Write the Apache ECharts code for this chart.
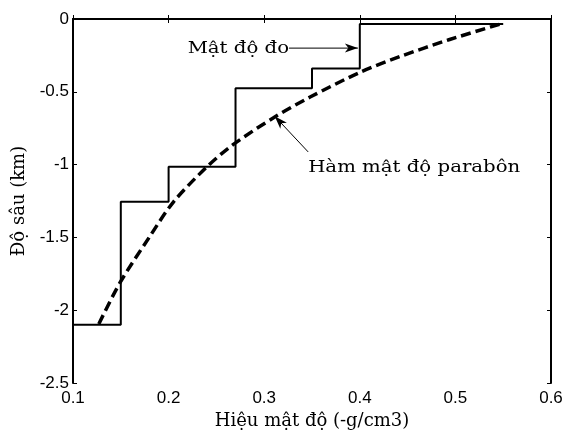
<!DOCTYPE html>
<html><head><meta charset="utf-8">
<script src="https://cdn.jsdelivr.net/npm/echarts@6/dist/echarts.min.js"></script>
<style>html,body{margin:0;padding:0;background:#fff}#c{width:567px;height:430px}</style>
</head><body><div id="c"></div>
<script>
// Measured density (step profile): [density, depth]
const measuredX = [0.10, 0.15, 0.15, 0.20, 0.20, 0.27, 0.27, 0.35, 0.35, 0.40, 0.40, 0.55];
const measuredY = [-2.10, -2.10, -1.255, -1.255, -1.015, -1.015, -0.475, -0.475, -0.34, -0.34, -0.034, -0.034];
// Parabolic density curve
const paraX = [0.127, 0.149, 0.180, 0.205, 0.240, 0.267, 0.311, 0.348, 0.400, 0.442, 0.494, 0.547];
const paraY = [-2.095, -1.813, -1.497, -1.257, -1.016, -0.865, -0.673, -0.536, -0.367, -0.258, -0.141, -0.035];
const xTicks = [0.1, 0.2, 0.3, 0.4, 0.5, 0.6];
const yTicks = [-2.5, -2, -1.5, -1, -0.5, 0];
const labelMeasured = 'Mật độ đo';
const labelPara = 'Hàm mật độ parabôn';
const xName = 'Hiệu mật độ (-g/cm3)';
const yName = 'Độ sâu (km)';

const chart = echarts.init(document.getElementById('c'), null, {renderer: 'canvas'});
const serif = 'DejaVu Serif';
const sans = 'Liberation Sans';
const fmt = v => String(Math.round(v * 10) / 10);
const axisCommon = {
  axisLine: {show: true, lineStyle: {color: '#000', width: 2}},
  axisTick: {show: true, inside: true, length: 4, lineStyle: {color: '#000', width: 1}},
  splitLine: {show: false}
};
chart.setOption({
  animation: false,
  backgroundColor: '#fff',
  grid: {left: 73, top: 19, right: 16, bottom: 47, containLabel: false, outerBoundsMode: 'none'},
  xAxis: [
    Object.assign({type: 'value', min: xTicks[0], max: xTicks[xTicks.length - 1], interval: 0.1, position: 'bottom',
      name: xName, nameLocation: 'middle', nameGap: 21,
      nameTextStyle: {fontFamily: serif, fontSize: 18, color: '#000'},
      axisLabel: {fontFamily: sans, fontSize: 17, color: '#000', margin: 7, formatter: fmt}}, axisCommon),
    Object.assign({type: 'value', min: xTicks[0], max: xTicks[xTicks.length - 1], interval: 0.1, position: 'top',
      axisLabel: {show: false}}, axisCommon)
  ],
  yAxis: [
    Object.assign({type: 'value', min: yTicks[0], max: yTicks[yTicks.length - 1], interval: 0.5, position: 'left',
      name: yName, nameLocation: 'middle', nameGap: 45,
      nameTextStyle: {fontFamily: serif, fontSize: 18, color: '#000'},
      axisLabel: {fontFamily: sans, fontSize: 17, color: '#000', margin: 4, formatter: fmt}}, axisCommon),
    Object.assign({type: 'value', min: yTicks[0], max: yTicks[yTicks.length - 1], interval: 0.5, position: 'right',
      axisLabel: {show: false}}, axisCommon)
  ],
  series: [
    {type: 'line', name: 'measured', xAxisIndex: 0, yAxisIndex: 0, symbol: 'none',
     data: measuredX.map((x, i) => [x, measuredY[i]]),
     lineStyle: {color: '#000', width: 2}},
    {type: 'line', name: 'parabolic', xAxisIndex: 0, yAxisIndex: 0, symbol: 'none', smooth: 0.3,
     data: paraX.map((x, i) => [x, paraY[i]]),
     lineStyle: {color: '#000', width: 3.5, type: [10, 5]}}
  ]
});

function drawAnnotations() {
  const p = (x, y) => chart.convertToPixel({xAxisIndex: 0, yAxisIndex: 0}, [x, y]);
  const a1s = p(0.326, -0.2), a1e = p(0.398, -0.2);
  const a2s = p(0.346, -0.913), a2e = p(0.311, -0.668);
  const t2 = p(0.346, -1.023);
  function arrow(s, e, id) {
    const ang = Math.atan2(e[1] - s[1], e[0] - s[0]);
    const L = 13, W = 4.5, back = 3.5;
    const ca = Math.cos(ang), sa = Math.sin(ang);
    const pt = (dx, dy) => [e[0] + dx * ca - dy * sa, e[1] + dx * sa + dy * ca];
    return [
      {type: 'line', id: id + 'l', shape: {x1: s[0], y1: s[1], x2: e[0], y2: e[1]}, style: {stroke: '#000', lineWidth: 1}, z: 10},
      {type: 'polygon', id: id + 'h', shape: {points: [pt(0, 0), pt(-L, -W), pt(-L + back, 0), pt(-L, W)]}, style: {fill: '#000'}, z: 10}
    ];
  }
  const font = '17px "' + serif + '"';
  chart.setOption({
    graphic: [].concat(
      arrow(a1s, a1e, 'a1'),
      arrow(a2s, a2e, 'a2'),
      [
        {type: 'text', id: 't1', x: a1s[0], y: a1s[1], scaleX: 1.16, style: {text: labelMeasured, font: font, fill: '#000', align: 'right', verticalAlign: 'middle'}, z: 10},
        {type: 'text', id: 't2', x: t2[0], y: t2[1], scaleX: 1.16, style: {text: labelPara, font: font, fill: '#000', align: 'left', verticalAlign: 'middle'}, z: 10}
      ]
    )
  });
}
drawAnnotations();
</script>
</body></html>
